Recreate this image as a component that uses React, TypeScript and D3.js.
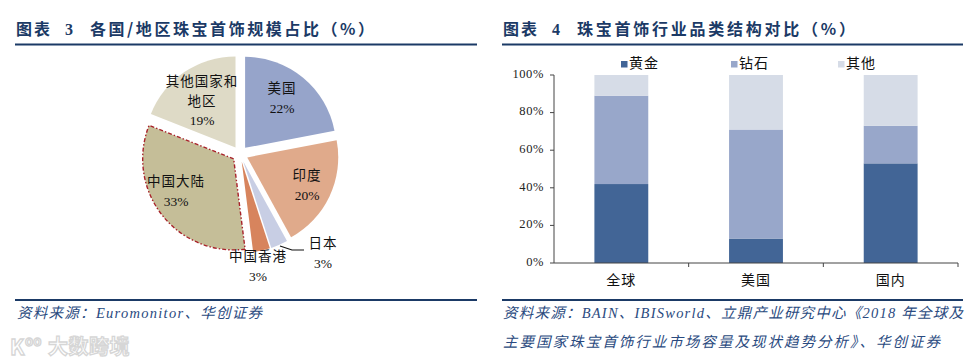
import React from 'react'
import * as d3 from 'd3'

// pie: share of jewellery market by country / region (%)
const regions = ['美国', '印度', '日本', '中国香港', '中国大陆', '其他国家和地区']
const regionShare = [22, 20, 3, 3, 33, 19]
const regionColors = ['#96a4ca', '#e0aa8b', '#c8cee4', '#d7845d', '#c5be98', '#dedac6']

// stacked bars: category structure (%)
const markets = ['全球', '美国', '国内']
const goldShare = [42, 13, 53]
const diamondShare = [47, 58, 20]
const otherShare = [11, 29, 27]
const seriesNames = ['黄金', '钻石', '其他']
const seriesColors = ['#426596', '#98a7ca', '#d6dce7']
const yTicks = [0, 20, 40, 60, 80, 100]

const titleColor = '#1b3a66'
const srcColor = '#2a4a80'
const serif = "'Liberation Serif', 'Noto Sans CJK SC', serif"
const cjk = "'Noto Sans CJK SC', sans-serif"

const PieChart = () => {
    const cx = 240, cy = 154, r = 91, explode = 8
    const pie = d3.pie<number>().sort(null).value(d => d)
    const arcs = pie(regionShare)
    const arc = d3.arc<d3.PieArcDatum<number>>().innerRadius(0).outerRadius(r)

    // label positions, hand placed like the original
    const labels: { lines: string[], x: number, y: number }[] = [
        { lines: ['美国', '22%'], x: 282, y: 90 },
        { lines: ['印度', '20%'], x: 307, y: 177 },
        { lines: ['日本', '3%'], x: 323, y: 245 },
        { lines: ['中国香港', '3%'], x: 258, y: 258 },
        { lines: ['中国大陆', '33%'], x: 176, y: 183 },
        { lines: ['其他国家和', '地区', '19%'], x: 202, y: 83 },
    ]

    return (
        <g>
            {arcs.map((a, i) => {
                const mid = (a.startAngle + a.endAngle) / 2
                const dx = explode * Math.sin(mid)
                const dy = -explode * Math.cos(mid)
                const isMain = regions[i] === '中国大陆'
                return (
                    <path key={regions[i]}
                        d={arc(a) as string}
                        transform={`translate(${cx + dx},${cy + dy})`}
                        fill={regionColors[i]}
                        stroke={isMain ? '#a8222a' : 'none'}
                        strokeWidth={isMain ? 1.4 : 0}
                        strokeDasharray={isMain ? '4,2,1.5,2' : undefined} />
                )
            })}
            <polyline points="280,246 292,250 304,250" fill="none" stroke="#111" strokeWidth={1.2} />
            {labels.map((l, i) => (
                <text key={i} x={l.x} textAnchor="middle" fontFamily={serif} fontSize={13.5} fill="#111">
                    {l.lines.map((s, j) => (
                        <tspan key={j} x={l.x} y={l.y + j * 19.5} dominantBaseline="middle"
                            letterSpacing={/[0-9]/.test(s) ? 0 : 1}>{s}</tspan>
                    ))}
                </text>
            ))}
        </g>
    )
}

const BarChart = () => {
    const x0 = 554, x1 = 958, yTop = 75, yBot = 263
    const x = d3.scaleBand<string>().domain(markets).range([x0, x1]).padding(0)
    const y = d3.scaleLinear().domain([0, 100]).range([yBot, yTop])
    const stack = d3.stack<any>().keys(seriesNames)
    const rows = markets.map((m, i) => ({ m, 黄金: goldShare[i], 钻石: diamondShare[i], 其他: otherShare[i] }))
    const layers = stack(rows)
    const bw = x.bandwidth() * 0.4
    const legendX = [621, 731, 838]

    return (
        <g>
            {layers.map((layer, k) => layer.map((d, i) => {
                const bx = (x(markets[i]) as number) + x.bandwidth() / 2 - bw / 2
                return <rect key={k + '-' + i} x={bx} y={y(d[1])} width={bw}
                    height={y(d[0]) - y(d[1])} fill={seriesColors[k]} />
            }))}
            {/* y axis */}
            <line x1={x0} x2={x0} y1={yTop} y2={yBot} stroke="#444" />
            {yTicks.map(t => (
                <g key={t}>
                    <line x1={x0 - 4} x2={x0} y1={y(t)} y2={y(t)} stroke="#444" />
                    <text x={x0 - 10} y={y(t)} textAnchor="end" dominantBaseline="middle"
                        fontFamily={serif} fontSize={12.5} fill="#222" letterSpacing={0.6}>{t}%</text>
                </g>
            ))}
            {/* x axis */}
            <line x1={x0} x2={x1} y1={yBot} y2={yBot} stroke="#444" />
            {markets.map(m => {
                const bx = x(m) as number
                return (
                    <g key={m}>
                        <line x1={bx + x.bandwidth()} x2={bx + x.bandwidth()} y1={yBot} y2={yBot + 4} stroke="#444" />
                        <text x={bx + x.bandwidth() / 2} y={yBot + 18} textAnchor="middle" dominantBaseline="middle"
                            fontFamily={cjk} fontSize={14} fill="#111" letterSpacing={1}>{m}</text>
                    </g>
                )
            })}
            {/* legend */}
            {seriesNames.map((s, k) => (
                <g key={s}>
                    <rect x={legendX[k]} y={61} width={6.5} height={6.5} fill={seriesColors[k]} />
                    <text x={legendX[k] + 8} y={64.5} dominantBaseline="middle" fontFamily={cjk}
                        fontSize={14} fill="#111" letterSpacing={1}>{s}</text>
                </g>
            ))}
        </g>
    )
}

const Title = ({ x, num, text, textLen }: { x: number, num: string, text: string, textLen: number }) => (
    <g fontFamily={cjk} fontWeight="bold" fill={titleColor} fontSize={16}>
        <text x={x} y={31} dominantBaseline="middle" letterSpacing={2}>图表</text>
        <text x={x + 49} y={31} dominantBaseline="middle" fontFamily={serif}>{num}</text>
        <text x={x + 74} y={31} dominantBaseline="middle" textLength={textLen} lengthAdjust="spacing">{text}</text>
    </g>
)

const App = () => {
    return (
        <svg width={975} height={364} style={{ position: 'absolute', left: 0, top: 0, background: '#fff' }}
            viewBox="0 0 975 364">
            <rect width={975} height={364} fill="#fff" />
            <Title x={16} num="3" text="各国/地区珠宝首饰规模占比（%）" textLen={284} />
            <Title x={503} num="4" text="珠宝首饰行业品类结构对比（%）" textLen={278} />
            <line x1={15} x2={477} y1={44.5} y2={44.5} stroke={titleColor} strokeWidth={2.2} />
            <line x1={502} x2={963} y1={44.5} y2={44.5} stroke={titleColor} strokeWidth={2.2} />
            <line x1={15} x2={477} y1={300} y2={300} stroke={titleColor} strokeWidth={2} />
            <line x1={502} x2={963} y1={300} y2={300} stroke={titleColor} strokeWidth={2} />

            <PieChart />
            <BarChart />

            <g fontFamily={serif} fontStyle="italic" fill={srcColor} fontSize={14.5}>
                <text x={17} y={315} dominantBaseline="middle" textLength={245} lengthAdjust="spacing">资料来源：Euromonitor、华创证券</text>
                <text x={503} y={315} dominantBaseline="middle" textLength={460} lengthAdjust="spacing">资料来源：BAIN、IBISworld、立鼎产业研究中心《2018 年全球及</text>
                <text x={503} y={344} dominantBaseline="middle" textLength={437} lengthAdjust="spacing">主要国家珠宝首饰行业市场容量及现状趋势分析》、华创证券</text>
            </g>

            {/* faint watermark */}
            <g fontFamily={cjk} fill="#fff" stroke="#d6d6d6" strokeWidth={1.3} fontWeight="bold">
                <text x={10} y={349} dominantBaseline="middle" fontSize={21}>K</text>
                <text x={25} y={342} dominantBaseline="middle" fontSize={13}>oo</text>
                <text x={48} y={349} dominantBaseline="middle" fontSize={20} letterSpacing={0.5}>大数跨境</text>
            </g>
        </svg>
    )
}

export default App
